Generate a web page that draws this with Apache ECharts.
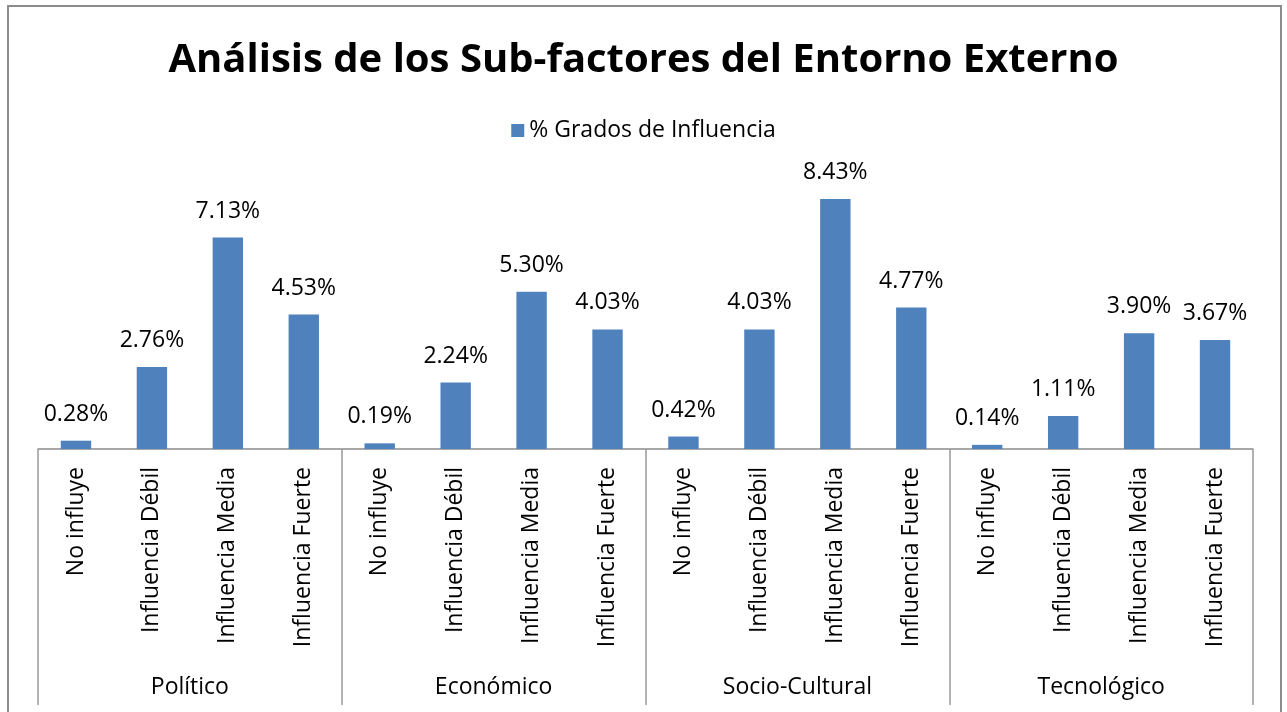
<!DOCTYPE html>
<html>
<head>
<meta charset="utf-8">
<script src="https://cdn.jsdelivr.net/npm/echarts@6/dist/echarts.min.js"></script>
<style>
  html, body { margin: 0; padding: 0; background: #fff; }
  #chart { width: 1287px; height: 712px; }
</style>
</head>
<body>
<div id="chart"></div>
<script>
const groups = ['Político', 'Económico', 'Socio-Cultural', 'Tecnológico'];
const subFactors = ['No influye', 'Influencia Débil', 'Influencia Media', 'Influencia Fuerte'];
const politico = [0.28, 2.76, 7.13, 4.53];
const economico = [0.19, 2.24, 5.30, 4.03];
const socioCultural = [0.42, 4.03, 8.43, 4.77];
const tecnologico = [0.14, 1.11, 3.90, 3.67];

const font = 'Open Sans';
const categories = [];
groups.forEach(function () {
  subFactors.forEach(function (s) { categories.push(s); });
});
const values = [].concat(politico, economico, socioCultural, tecnologico);

const chart = echarts.init(document.getElementById('chart'));

chart.setOption({
  animation: false,
  textStyle: { fontFamily: font, color: '#000' },
  title: {
    text: 'Análisis de los Sub-factores del Entorno Externo',
    left: 'center',
    top: 36,
    textStyle: { fontFamily: font, fontSize: 40, fontWeight: 'bold', color: '#000' }
  },
  legend: {
    top: 114,
    left: 'center',
    icon: 'rect',
    itemWidth: 13,
    itemHeight: 13,
    itemGap: 8,
    textStyle: { fontFamily: font, fontSize: 23, color: '#000' },
    data: ['% Grados de Influencia']
  },
  graphic: [{
    type: 'rect',
    shape: { x: 8, y: 6, width: 1273, height: 730 },
    style: { fill: 'none', stroke: '#8c8c8c', lineWidth: 2 },
    silent: true
  }],
  grid: { left: 38, right: 34, top: 182, bottom: 263 },
  xAxis: [{
    type: 'category',
    data: categories,
    axisLine: { lineStyle: { color: '#8c8c8c', width: 1.5 } },
    axisTick: {
      show: true,
      length: 256,
      interval: function (index) { return index % subFactors.length === 0; },
      lineStyle: { color: '#999', width: 1.5 }
    },
    axisLabel: {
      rotate: 90, interval: 0, margin: 18,
      fontFamily: font, fontSize: 23, color: '#000'
    }
  }, {
    type: 'category',
    data: groups,
    position: 'bottom',
    axisLine: { show: false },
    axisTick: { show: false },
    axisLabel: { margin: 227, fontFamily: font, fontSize: 23, color: '#000' }
  }],
  yAxis: {
    type: 'value',
    min: 0,
    max: 9,
    show: false,
    splitLine: { show: false }
  },
  series: [{
    name: '% Grados de Influencia',
    type: 'bar',
    xAxisIndex: 0,
    data: values,
    barWidth: '40%',
    itemStyle: { color: '#4F81BD' },
    label: {
      show: true,
      position: 'top',
      distance: 15,
      fontFamily: font,
      fontSize: 23,
      color: '#000',
      formatter: function (p) { return p.value.toFixed(2) + '%'; }
    }
  }]
});
</script>
</body>
</html>
